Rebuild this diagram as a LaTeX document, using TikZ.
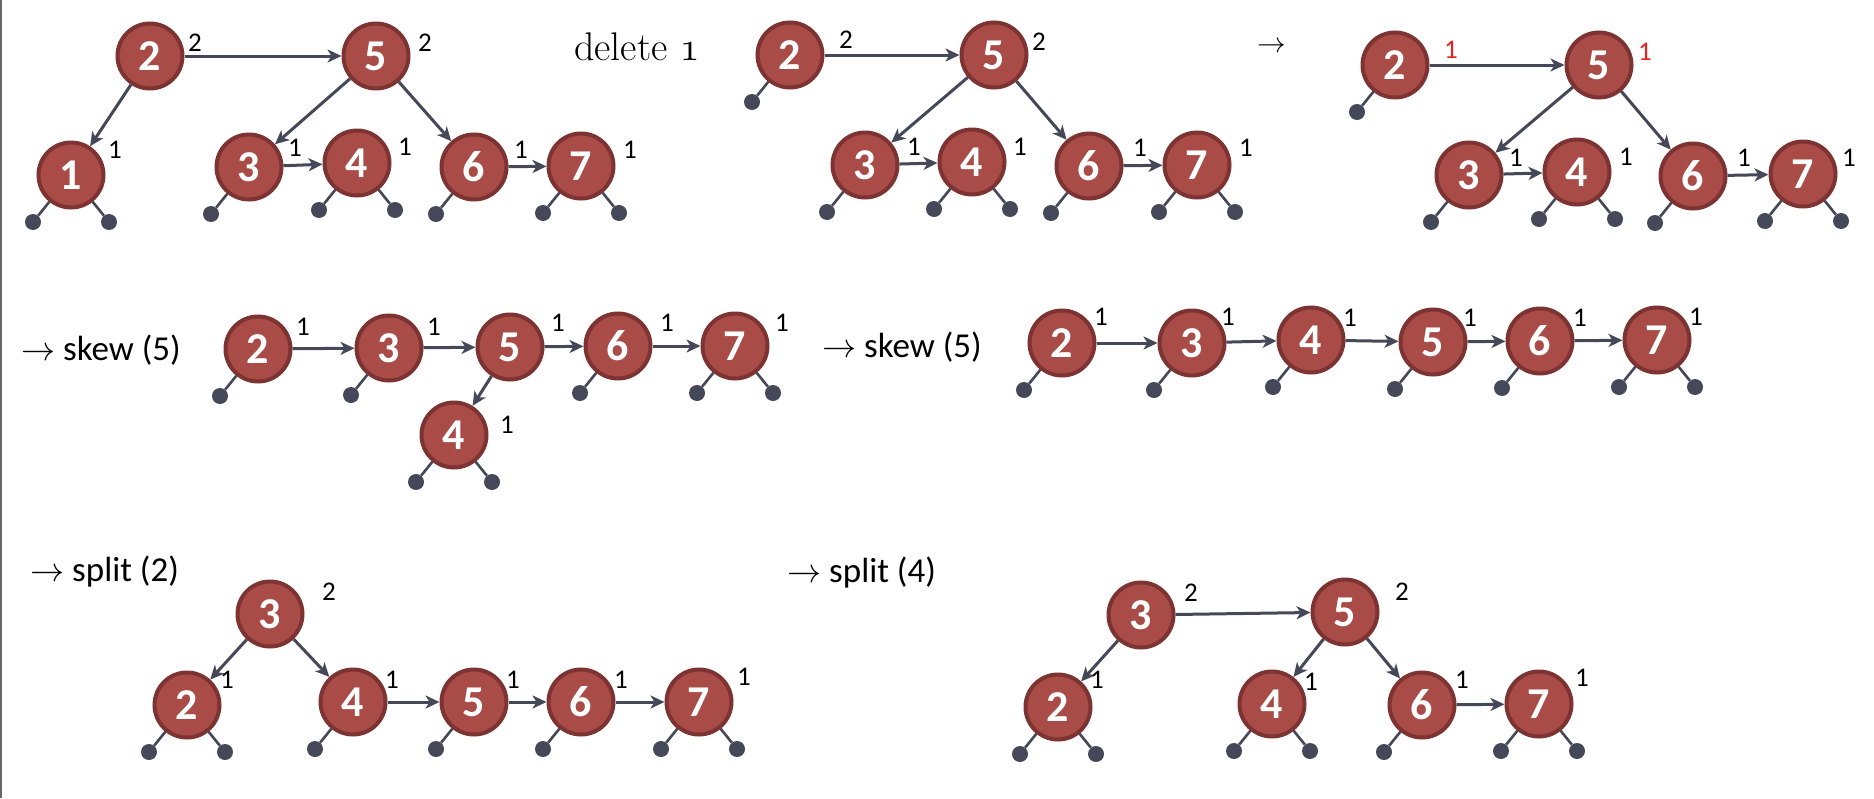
\documentclass[tikz,border=0pt]{standalone}
\usepackage{fontspec}
\usepackage{graphicx}
\newfontfamily\carl{Carlito}
\usetikzlibrary{arrows.meta,calc}
\definecolor{nodefill}{HTML}{A94B47}
\definecolor{nodeline}{HTML}{7D3331}
\definecolor{edgecol}{HTML}{454858}
\definecolor{redlbl}{HTML}{E8221C}
\newcommand\bigarr[1]{\scalebox{#1}{$\rightarrow$}}
\tikzset{
  bnode/.style={circle,fill=nodefill,draw=nodeline,line width=4pt,minimum size=65pt,inner sep=0pt,
    text=white,font=\carl\bfseries\fontsize{44}{44}\selectfont},
  nil/.style={circle,fill=edgecol,draw=none,minimum size=16pt,inner sep=0pt},
  stub/.style={draw=edgecol,line width=2.6pt},
  edge/.style={draw=edgecol,line width=3pt,-{Stealth[length=14pt,width=13pt,inset=4pt]}},
  lbl/.style={inner sep=0pt,font=\carl\fontsize{27}{27}\selectfont,text=black},
  rlbl/.style={lbl,text=redlbl},
  optext/.style={inner sep=0pt,anchor=west,font=\carl\fontsize{35}{35}\selectfont},
}
\newcommand\bn[4]{\node[bnode] (#1) at (#2,#3) {#4};}
\newcommand\nilL[1]{\node[nil] (#1L) at ($(#1)+(-38,47)$) {}; \draw[stub] (#1) -- (#1L);}
\newcommand\nilR[1]{\node[nil] (#1R) at ($(#1)+(38,47)$) {}; \draw[stub] (#1) -- (#1R);}
\begin{document}
\begin{tikzpicture}[x=1pt,y=-1pt]
\useasboundingbox (0,0) rectangle (1874,798);
\fill[white] (0,0) rectangle (1874,798);
\draw[line width=2pt,color=black!60] (1,0) coordinate (lt) -- (1,798) coordinate (lb);

% ---------- Tree A ----------
\bn{A2}{150}{56}{2}
\bn{A5}{376}{56}{5}
\bn{A1}{71}{175}{1}
\bn{A3}{249}{167}{3}
\bn{A4}{357}{163}{4}
\bn{A6}{474}{167}{6}
\bn{A7}{581}{166}{7}
\draw[edge] (A2) -- (A5);
\draw[edge] (A2) -- (A1);
\draw[edge] (A5) -- (A3);
\draw[edge] (A5) -- (A6);
\draw[edge] (A3) -- (A4);
\draw[edge] (A6) -- (A7);
\nilL{A1}\nilR{A1}\nilL{A3}\nilL{A4}\nilR{A4}\nilL{A6}\nilL{A7}\nilR{A7}
\node[lbl] (A2l) at (195,43) {2};
\node[lbl] (A5l) at (425,43) {2};
\node[lbl] (A1l) at (115,150) {1};
\node[lbl] (A3l) at (295,148) {1};
\node[lbl] (A4l) at (405,147) {1};
\node[lbl] (A6l) at (521,150) {1};
\node[lbl] (A7l) at (630,150) {1};
\node[inner sep=0pt,anchor=base west,font=\fontsize{40}{40}\selectfont] (del) at (574,60) {delete \scalebox{1.65}{\usefont{OML}{cmm}{m}{it}1}};

% ---------- Tree B ----------
\bn{B2}{790}{55}{2}
\bn{B5}{994}{55}{5}
\bn{B3}{865}{165}{3}
\bn{B4}{972}{162}{4}
\bn{B6}{1089}{166}{6}
\bn{B7}{1197}{165}{7}
\draw[edge] (B2) -- (B5);
\draw[edge] (B5) -- (B3);
\draw[edge] (B5) -- (B6);
\draw[edge] (B3) -- (B4);
\draw[edge] (B6) -- (B7);
\nilL{B2}\nilL{B3}\nilL{B4}\nilR{B4}\nilL{B6}\nilL{B7}\nilR{B7}
\node[lbl] (B2l) at (846,40) {2};
\node[lbl] (B5l) at (1039,42) {2};
\node[lbl] (B3l) at (914,147) {1};
\node[lbl] (B4l) at (1020,147) {1};
\node[lbl] (B6l) at (1140,148) {1};
\node[lbl] (B7l) at (1246,148) {1};
\node[inner sep=0pt,font=\fontsize{30}{30}\selectfont] (arr1) at (1272,47) {\bigarr{1.15}};

% ---------- Tree C ----------
\bn{C2}{1395}{65}{2}
\bn{C5}{1599}{65}{5}
\bn{C3}{1469}{175}{3}
\bn{C4}{1577}{172}{4}
\bn{C6}{1693}{176}{6}
\bn{C7}{1803}{174}{7}
\draw[edge] (C2) -- (C5);
\draw[edge] (C5) -- (C3);
\draw[edge] (C5) -- (C6);
\draw[edge] (C3) -- (C4);
\draw[edge] (C6) -- (C7);
\nilL{C2}\nilL{C3}\nilL{C4}\nilR{C4}\nilL{C6}\nilL{C7}\nilR{C7}
\node[rlbl] (C2l) at (1451,50) {1};
\node[rlbl] (C5l) at (1645,52) {1};
\node[lbl] (C3l) at (1516,158) {1};
\node[lbl] (C4l) at (1626,157) {1};
\node[lbl] (C6l) at (1744,158) {1};
\node[lbl] (C7l) at (1849,158) {1};

% ---------- Row 2 left (D) ----------
\node[optext] (Dt) at (21,350) {\bigarr{1.37} skew (5)};
\bn{D2}{258}{349}{2}
\bn{D3}{389}{348}{3}
\bn{D5}{510}{347}{5}
\bn{D6}{618}{346}{6}
\bn{D7}{735}{346}{7}
\bn{D4}{454}{435}{4}
\draw[edge] (D2) -- (D3);
\draw[edge] (D3) -- (D5);
\draw[edge] (D5) -- (D6);
\draw[edge] (D6) -- (D7);
\draw[edge] (D5) -- (D4);
\nilL{D2}\nilL{D3}\nilL{D6}\nilL{D7}\nilR{D7}\nilL{D4}\nilR{D4}
\node[lbl] (D2l) at (303,327) {1};
\node[lbl] (D3l) at (434,327) {1};
\node[lbl] (D5l) at (558,323) {1};
\node[lbl] (D6l) at (667,323) {1};
\node[lbl] (D7l) at (782,323) {1};
\node[lbl] (D4l) at (507,425) {1};

% ---------- Row 2 right (E) ----------
\node[optext] (Et) at (822,347) {\bigarr{1.37} skew (5)};
\bn{E2}{1062}{343}{2}
\bn{E3}{1192}{343}{3}
\bn{E4}{1311}{340}{4}
\bn{E5}{1433}{342}{5}
\bn{E6}{1540}{341}{6}
\bn{E7}{1657}{340}{7}
\draw[edge] (E2) -- (E3);
\draw[edge] (E3) -- (E4);
\draw[edge] (E4) -- (E5);
\draw[edge] (E5) -- (E6);
\draw[edge] (E6) -- (E7);
\nilL{E2}\nilL{E3}\nilL{E4}\nilL{E5}\nilL{E6}\nilL{E7}\nilR{E7}
\node[lbl] (E2l) at (1101,317) {1};
\node[lbl] (E3l) at (1228,317) {1};
\node[lbl] (E4l) at (1350,318) {1};
\node[lbl] (E5l) at (1470,318) {1};
\node[lbl] (E6l) at (1580,318) {1};
\node[lbl] (E7l) at (1696,317) {1};

% ---------- Row 3 left (F) ----------
\node[optext] (Ft) at (30,572) {\bigarr{1.37} split (2)};
\bn{F3}{270}{614}{3}
\bn{F2}{187}{705}{2}
\bn{F4}{353}{702}{4}
\bn{F5}{474}{702}{5}
\bn{F6}{581}{702}{6}
\bn{F7}{699}{702}{7}
\draw[edge] (F3) -- (F2);
\draw[edge] (F3) -- (F4);
\draw[edge] (F4) -- (F5);
\draw[edge] (F5) -- (F6);
\draw[edge] (F6) -- (F7);
\nilL{F2}\nilR{F2}\nilL{F4}\nilL{F5}\nilL{F6}\nilL{F7}\nilR{F7}
\node[lbl] (F3l) at (329,592) {2};
\node[lbl] (F2l) at (227,680) {1};
\node[lbl] (F4l) at (392,680) {1};
\node[lbl] (F5l) at (513,680) {1};
\node[lbl] (F6l) at (621,680) {1};
\node[lbl] (F7l) at (744,677) {1};

% ---------- Row 3 right (G) ----------
\node[optext] (Gt) at (787,573) {\bigarr{1.37} split (4)};
\bn{G3}{1141}{615}{3}
\bn{G5}{1345}{612}{5}
\bn{G2}{1058}{707}{2}
\bn{G4}{1272}{704}{4}
\bn{G6}{1422}{705}{6}
\bn{G7}{1539}{704}{7}
\draw[edge] (G3) -- (G5);
\draw[edge] (G3) -- (G2);
\draw[edge] (G5) -- (G4);
\draw[edge] (G5) -- (G6);
\draw[edge] (G6) -- (G7);
\nilL{G2}\nilR{G2}\nilL{G4}\nilR{G4}\nilL{G6}\nilL{G7}\nilR{G7}
\node[lbl] (G3l) at (1191,593) {2};
\node[lbl] (G5l) at (1402,592) {2};
\node[lbl] (G2l) at (1097,680) {1};
\node[lbl] (G4l) at (1311,682) {1};
\node[lbl] (G6l) at (1462,680) {1};
\node[lbl] (G7l) at (1582,678) {1};
\end{tikzpicture}
\end{document}
